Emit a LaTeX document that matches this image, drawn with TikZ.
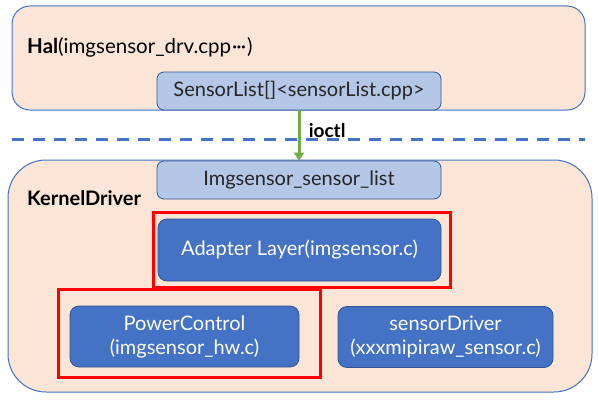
\documentclass[tikz,border=0pt]{standalone}
\usepackage{fontspec}
\setmainfont{Lato}
\usetikzlibrary{arrows.meta}
\definecolor{peach}{HTML}{FBE5D6}
\definecolor{bord}{HTML}{4472C4}
\definecolor{lightblue}{HTML}{B4C7E7}
\definecolor{darkbord}{HTML}{2F5597}
\definecolor{midblue}{HTML}{4472C4}
\definecolor{redbox}{HTML}{FF0000}
\definecolor{greenarr}{HTML}{70AD47}
\newcommand{\fs}{\fontsize{20}{24}\selectfont}
\newcommand{\middots}{\kern1pt\textperiodcentered\kern-1pt\textperiodcentered\kern-1pt\textperiodcentered\kern1pt}
\tikzset{
  layer/.style={draw=bord, fill=peach, line width=1pt},
  lightbox/.style={draw=darkbord, fill=lightblue, line width=0.8pt, rounded corners=7pt, font=\fs, text=black!85, inner sep=0pt},
  darkbox/.style={draw=darkbord, fill=midblue, line width=0.8pt, rounded corners=9pt, font=\fs, text=white, align=center, inner sep=0pt},
  hilite/.style={draw=redbox, line width=3pt},
  lbl/.style={font=\fs, anchor=west, inner sep=0pt},
}
\begin{document}
\begin{tikzpicture}[x=1pt,y=-1pt]
\useasboundingbox (0,0) rectangle (599,404);
% Hal layer
\path[layer, rounded corners=18pt] (12,6) rectangle (585,110);
\node[lbl, font=\fontsize{20.5}{24}\selectfont] (hal) at (27,47) {\textbf{Hal}(imgsensor\_drv.cpp\middots)};
\node[lightbox, minimum width=284pt, minimum height=38pt] (slist) at (299,91) {SensorList[]<sensorList.cpp>};
% dashed separator
\coordinate (dl) at (12,139);
\coordinate (dr) at (585,139);
\draw[draw=bord, line width=3pt, dash pattern=on 12pt off 9pt] (dl) -- (dr);
% Kernel layer
\path[layer, rounded corners=38pt] (8,160) rectangle (592,392);
\node[lightbox, minimum width=284pt, minimum height=38pt] (klist) at (299,180) {Imgsensor\_sensor\_list};
\node[lbl, font=\fs\bfseries] (kd) at (27,198) {KernelDriver};
% arrow
\draw[greenarr, line width=3pt, -{Triangle[length=8pt,width=10pt]}] (slist.south) -- node[right=5pt, pos=0.4, font=\fontsize{19}{22}\selectfont\bfseries, text=black] {ioctl} (klist.north);
% red highlights
\draw[hilite] (153,212) rectangle (450,287);
\draw[hilite] (58,289) rectangle (320,377);
% dark boxes
\node[darkbox, minimum width=283pt, minimum height=62pt] (adapter) at (299.5,250) {Adapter Layer(imgsensor.c)};
\node[darkbox, minimum width=229pt, minimum height=61pt] (power) at (184.5,336.5) {PowerControl\\(imgsensor\_hw.c)};
\node[darkbox, minimum width=215pt, minimum height=61pt] (sdrv) at (445.5,337) {sensorDriver\\(xxxmipiraw\_sensor.c)};
\end{tikzpicture}
\end{document}
